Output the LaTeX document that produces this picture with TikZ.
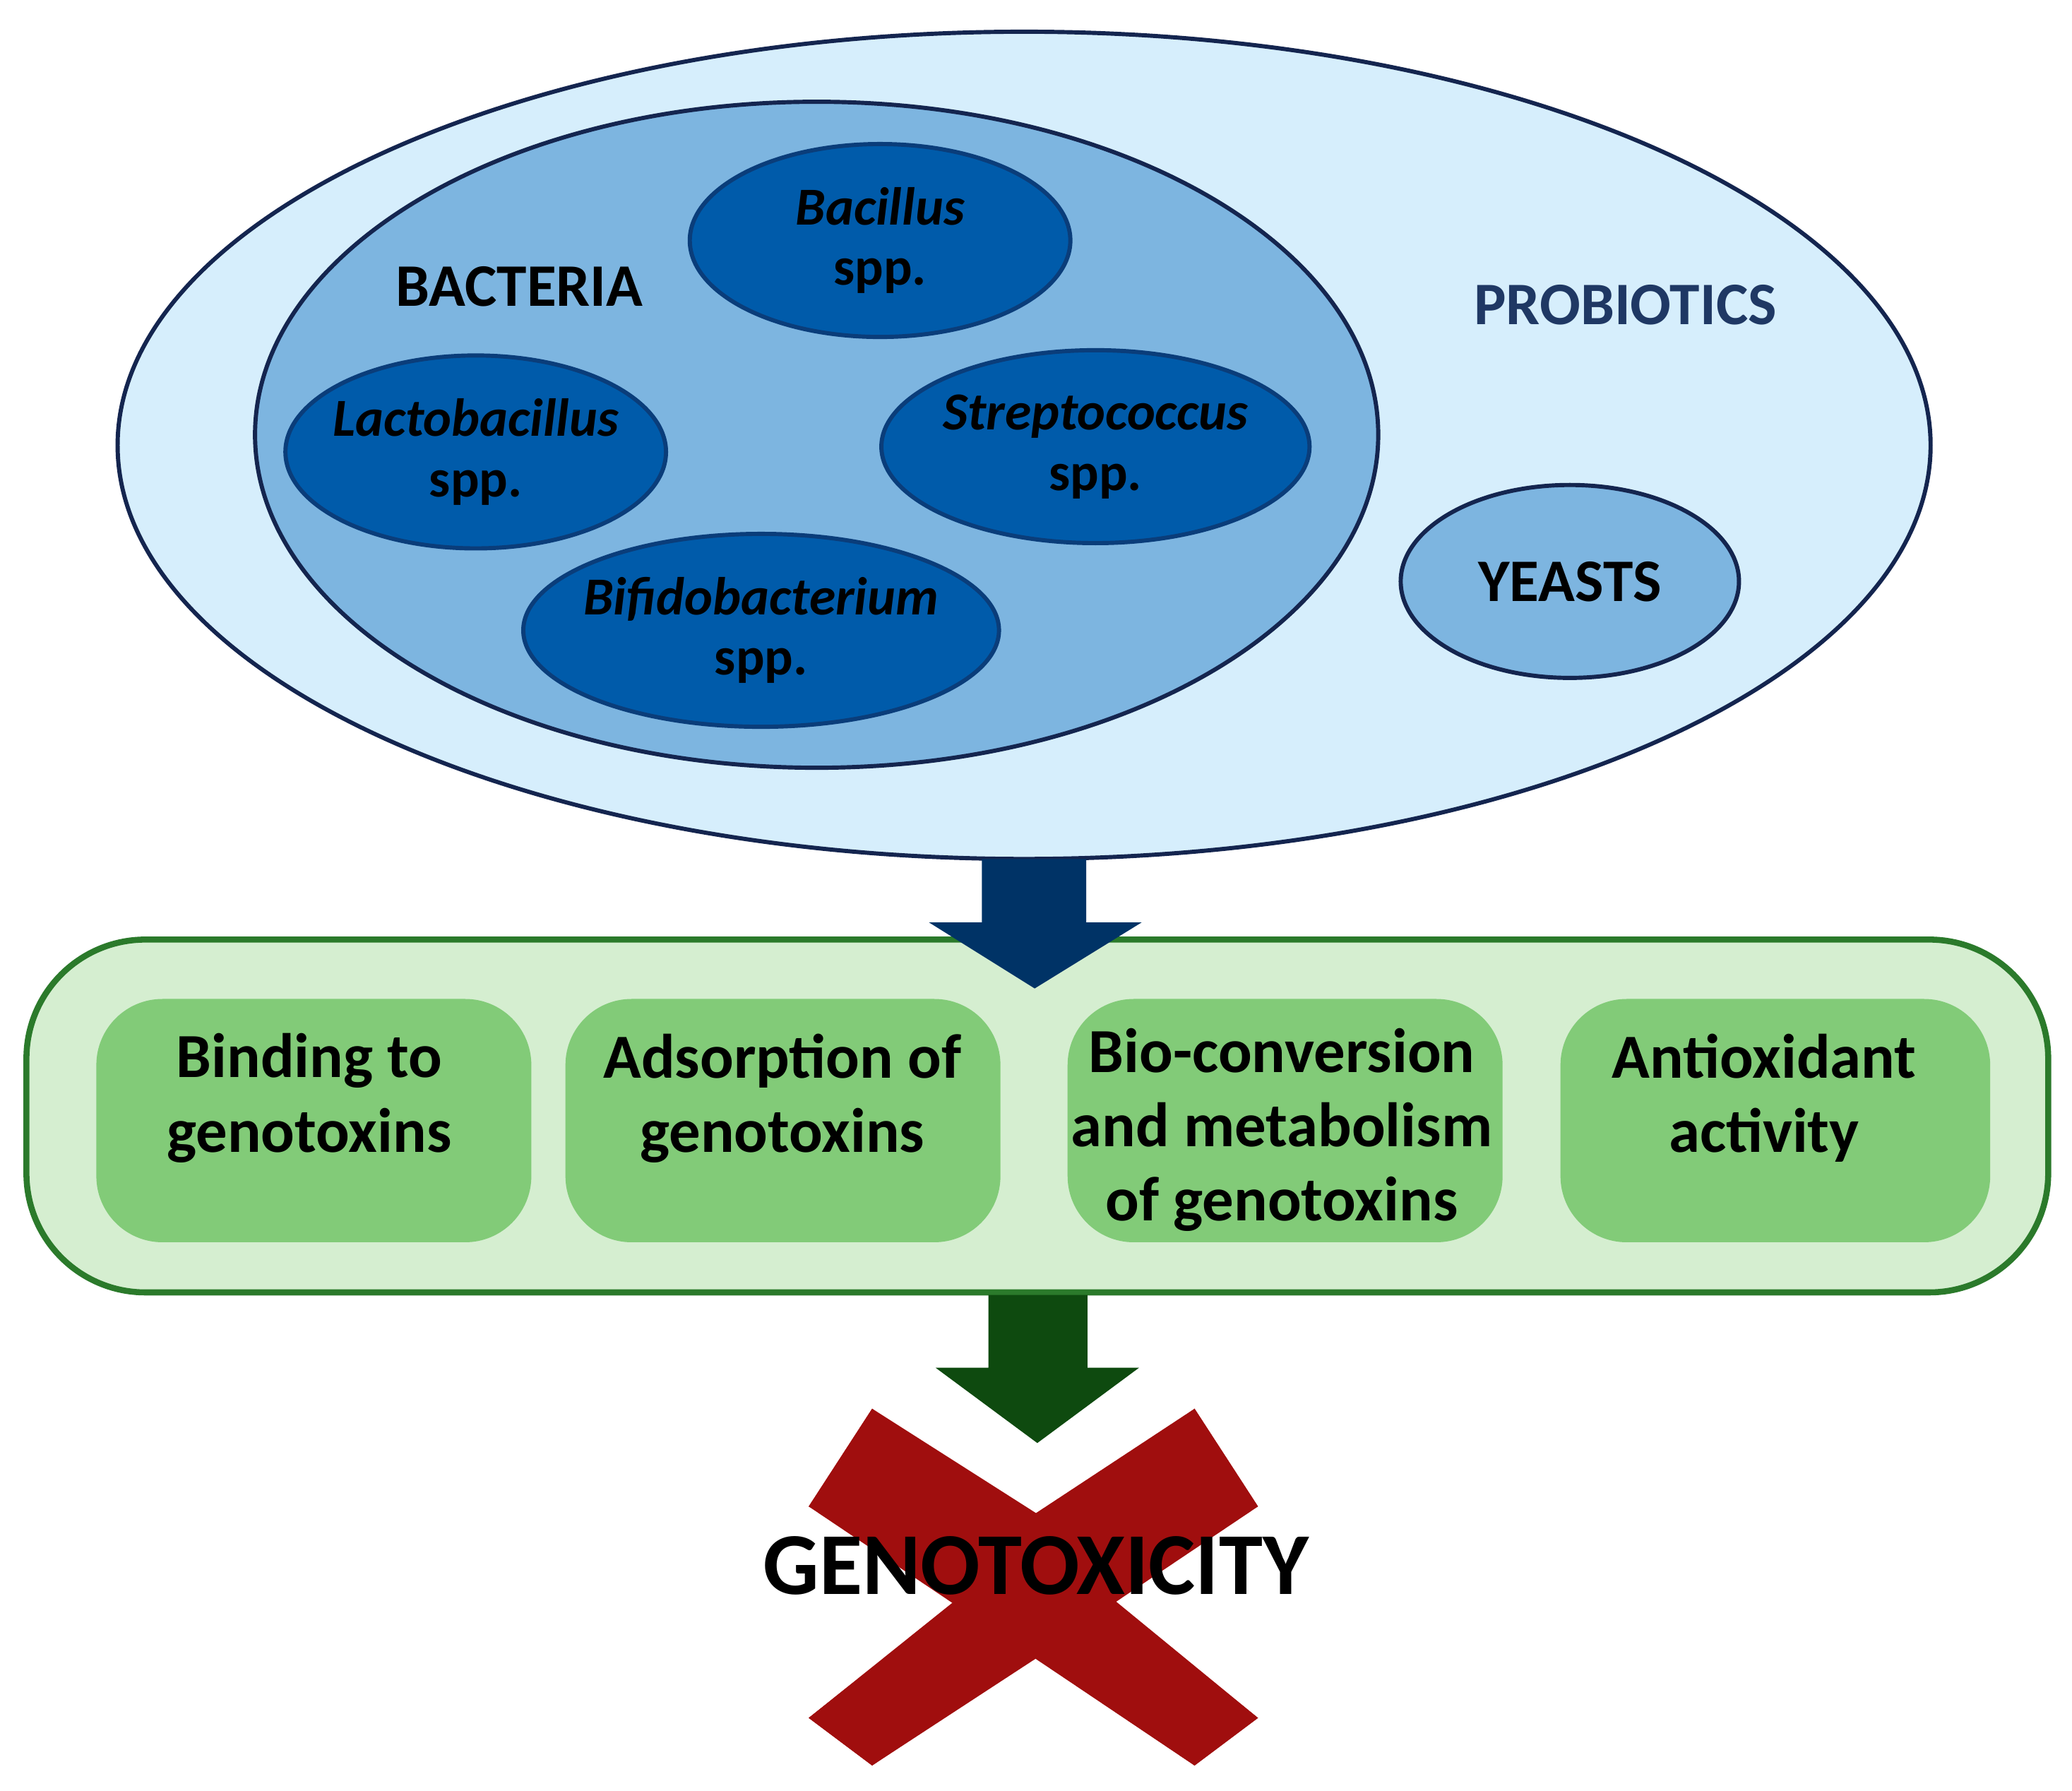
\documentclass[tikz,border=0pt]{standalone}
\usepackage{fontspec}
\setmainfont{Carlito}
\begin{document}
\begin{tikzpicture}[x=0.01cm,y=-0.01cm,
  ell/.style={draw=navy,line width=0.9pt},
  sp/.style={ell,fill=dblue,draw=nb2},
  lab/.style={font=\bfseries\fontsize{11.5}{13}\selectfont,align=center,text=black},
  box/.style={fill=gbox,rounded corners=0.5cm,inner sep=0pt},
  btxt/.style={font=\bfseries\fontsize{13.5}{16}\selectfont,align=center}]
\definecolor{navy}{HTML}{14254F}
\definecolor{nb2}{HTML}{0A3D7A}
\definecolor{lblue}{HTML}{D6EEFC}
\definecolor{mblue}{HTML}{7DB5E0}
\definecolor{dblue}{HTML}{005BAA}
\definecolor{gfill}{HTML}{D5EED0}
\definecolor{gline}{HTML}{2B7A2B}
\definecolor{gbox}{HTML}{82CB78}
\definecolor{arr1}{HTML}{003366}
\definecolor{arr2}{HTML}{0E4A0F}
\definecolor{xred}{HTML}{A00E0E}
\definecolor{ptext}{HTML}{1F3864}
\useasboundingbox (0,0) rectangle (1568,1355);
% ellipses
\draw[ell,fill=lblue] (775,337) ellipse [x radius=686,y radius=313];
\draw[ell,fill=mblue] (618,329) ellipse [x radius=425,y radius=252];
\draw[sp] (666,182) ellipse [x radius=144,y radius=73];
\draw[sp] (360,342) ellipse [x radius=144,y radius=73];
\draw[sp] (829,338) ellipse [x radius=162,y radius=73];
\draw[sp] (576,477) ellipse [x radius=180,y radius=73];
\draw[ell,fill=mblue] (1188,440) ellipse [x radius=128,y radius=73];
\node[lab] (bac) at (666,182) {\itshape Bacillus\\spp.};
\node[lab] (lac) at (360,342) {\itshape Lactobacillus\\spp.};
\node[lab] (str) at (829,338) {\itshape Streptococcus\\spp.};
\node[lab] (bif) at (576,477) {\itshape Bifidobacterium\\spp.};
\node[font=\bfseries\fontsize{13}{15}\selectfont] (bact) at (393,217) {BACTERIA};
\node[font=\bfseries\fontsize{13}{15}\selectfont,text=ptext] (prob) at (1230,231) {PROBIOTICS};
\node[font=\bfseries\fontsize{13}{15}\selectfont] (yea) at (1188,440) {YEASTS};
% green panel
\draw[gline,line width=1.3pt,fill=gfill,rounded corners=0.9cm] (20,711) rectangle (1550,978);
% arrow 1
\fill[arr1] (743,650) -- (822,650) -- (822,698) -- (864,698) -- (783,748) -- (703,698) -- (743,698) -- cycle;
\node[box,minimum width=3.29cm,minimum height=1.84cm] (b1) at (237.5,848) {};
\node[box,minimum width=3.29cm,minimum height=1.84cm] (b2) at (592.5,848) {};
\node[box,minimum width=3.29cm,minimum height=1.84cm] (b3) at (972.5,848) {};
\node[box,minimum width=3.25cm,minimum height=1.84cm] (b4) at (1343.5,848) {};
\node[btxt] at (234,831) {Binding to\\genotoxins};
\node[btxt] at (592,831) {Adsorption of\\genotoxins};
\node[btxt] at (970,855) {Bio-conversion\\and metabolism\\of genotoxins};
\node[btxt] at (1335,831) {Antioxidant\\activity};
% arrow 2
\fill[arr2] (748,980) -- (823,980) -- (823,1035) -- (862,1035) -- (785,1092) -- (708,1035) -- (748,1035) -- cycle;
% cross
\fill[xred] (660,1066) -- (952,1300) -- (904,1336) -- (612,1140) -- cycle;
\fill[xred] (904,1066) -- (952,1140) -- (660,1336) -- (612,1300) -- cycle;
\fill[xred] (660,1066) -- (784,1145) -- (904,1066) -- (952,1140) -- (830,1200) -- (952,1300) -- (904,1336) -- (784,1255) -- (660,1336) -- (612,1300) -- (738,1200) -- (612,1140) -- cycle;
\node[font=\bfseries\fontsize{19}{22}\selectfont] (gen) at (784,1185) {GENOTOXICITY};
\end{tikzpicture}
\end{document}
